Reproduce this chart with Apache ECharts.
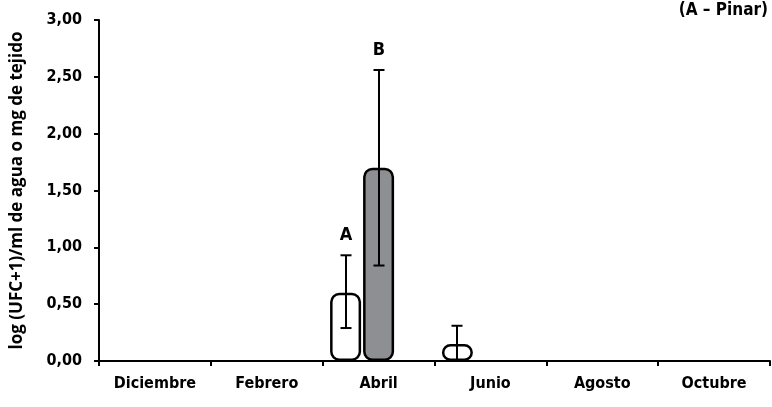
<!DOCTYPE html>
<html>
<head>
<meta charset="utf-8">
<script src="https://cdn.jsdelivr.net/npm/echarts@6/dist/echarts.min.js"></script>
<style>
  html, body { margin: 0; padding: 0; background: #fff; }
  #chart { width: 772px; height: 407px; }
</style>
</head>
<body>
<div id="chart"></div>
<script>
// Months sampled
const categories = ['Diciembre', 'Febrero', 'Abril', 'Junio', 'Agosto', 'Octubre'];

// Mean log counts per month (white and grey groups)
const whiteValues = [0, 0, 0.60, 0.15, 0, 0];
const greyValues  = [0, 0, 1.70, 0, 0, 0];

// Error bar limits (low / high) for each group
const whiteLow  = [null, null, 0.29, 0.00, null, null];
const whiteHigh = [null, null, 0.93, 0.31, null, null];
const greyLow   = [null, null, 0.84, null, null, null];
const greyHigh  = [null, null, 2.56, null, null, null];

// Significance letters above the error bars
const whiteLetters = ['', '', 'A', '', '', ''];
const greyLetters  = ['', '', 'B', '', '', ''];

// Axis ticks
const yTicks = { min: 0, max: 3, interval: 0.5 };

const FONT = '"DejaVu Sans Condensed", "DejaVu Sans", sans-serif';
const NAME_FONT = '"Open Sans", "Noto Sans", sans-serif';
const BAR_W = 31;
const BAR_GAP = 2;
const SLOT = BAR_W + BAR_GAP;

// Zero means are not drawn as bars
const asBars = arr => arr.map(v => (v > 0 ? v : null));

function errorSeries(lowArr, highArr, letters, slotIndex) {
  return {
    type: 'custom',
    z: 5,
    data: categories.map((c, i) => [i, lowArr[i], highArr[i]]),
    renderItem: function (params, api) {
      const low = api.value(1);
      const high = api.value(2);
      if (high == null || isNaN(high)) return null;
      const i = api.value(0);
      const pLow = api.coord([i, low]);
      const pHigh = api.coord([i, high]);
      const x = Math.round(pLow[0] + slotIndex * SLOT);
      const cap = 5.5;
      const style = { stroke: '#000', lineWidth: 2 };
      const children = [
        { type: 'line', shape: { x1: x, y1: pLow[1], x2: x, y2: pHigh[1] }, style: style },
        { type: 'line', shape: { x1: x - cap, y1: pHigh[1], x2: x + cap, y2: pHigh[1] }, style: style }
      ];
      if (low > 0) {
        children.push({ type: 'line', shape: { x1: x - cap, y1: pLow[1], x2: x + cap, y2: pLow[1] }, style: style });
      }
      const letter = letters[i];
      if (letter) {
        children.push({
          type: 'text',
          style: {
            text: letter, x: x, y: pHigh[1] - 11,
            align: 'center', verticalAlign: 'bottom',
            font: 'bold 18px ' + FONT, fill: '#000'
          }
        });
      }
      return { type: 'group', children: children };
    }
  };
}

const chart = echarts.init(document.getElementById('chart'), null, { renderer: 'canvas' });
chart.setOption({
  animation: false,
  backgroundColor: '#fff',
  title: {
    text: '(A – Pinar)',
    right: 4, top: 2, padding: 0,
    textStyle: { fontFamily: FONT, fontWeight: 'bold', fontSize: 17, color: '#000' }
  },
  grid: { left: 99, right: 2, top: 20, bottom: 46, containLabel: false, outerBoundsMode: 'none' },
  xAxis: {
    type: 'category',
    data: categories,
    axisLine: { lineStyle: { color: '#000', width: 2 } },
    axisTick: { show: true, length: 5, lineStyle: { color: '#000', width: 2 } },
    axisLabel: { color: '#000', fontFamily: FONT, fontWeight: 'bold', fontSize: 16, margin: 15 }
  },
  yAxis: {
    type: 'value',
    min: yTicks.min, max: yTicks.max, interval: yTicks.interval,
    name: 'log (UFC+1)/ml de agua o mg de tejido',
    nameLocation: 'middle',
    nameGap: 73,
    nameRotate: 90,
    nameTextStyle: { color: '#000', fontFamily: NAME_FONT, fontWeight: 'bold', fontSize: 17 },
    axisLine: { show: true, lineStyle: { color: '#000', width: 2 } },
    axisTick: { show: true, length: 5, lineStyle: { color: '#000', width: 2 } },
    splitLine: { show: false },
    axisLabel: {
      color: '#000', fontFamily: FONT, fontWeight: 'bold', fontSize: 16, margin: 17,
      formatter: v => v.toFixed(2).replace('.', ',')
    }
  },
  series: [
    {
      name: 'Blanco', type: 'bar', data: asBars(whiteValues),
      barWidth: BAR_W, barGap: (BAR_GAP / BAR_W * 100) + '%',
      itemStyle: { color: '#fff', borderColor: '#000', borderWidth: 2.5, borderRadius: 8 }
    },
    {
      name: 'Gris', type: 'bar', data: asBars(greyValues),
      barWidth: BAR_W,
      itemStyle: { color: '#8e8f92', borderColor: '#000', borderWidth: 2.5, borderRadius: 8 }
    },
    {
      name: 'Vacío', type: 'bar', data: categories.map(() => null),
      barWidth: BAR_W
    },
    errorSeries(whiteLow, whiteHigh, whiteLetters, -1),
    errorSeries(greyLow, greyHigh, greyLetters, 0)
  ]
});
</script>
</body>
</html>
